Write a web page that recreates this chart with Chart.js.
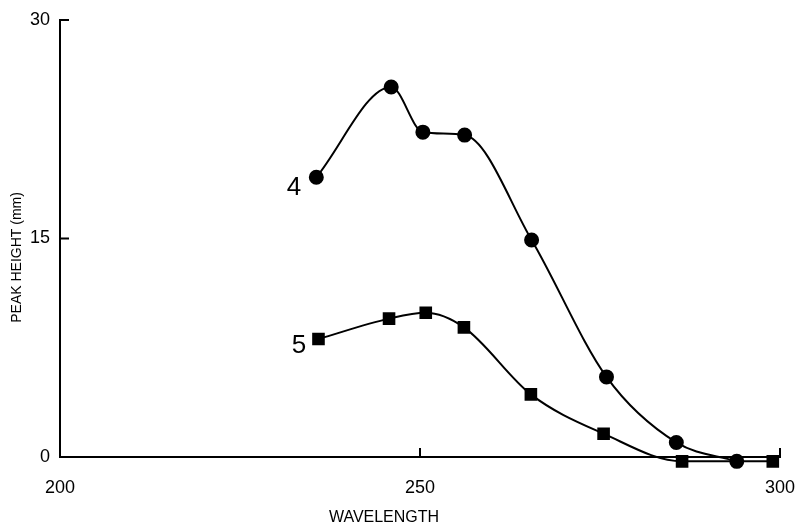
<!DOCTYPE html>
<html>
<head>
<meta charset="utf-8">
<script src="https://cdn.jsdelivr.net/npm/chart.js@4.4.1/dist/chart.umd.min.js"></script>
<style>
  html, body { margin: 0; padding: 0; background: #fff; }
  #wrap { width: 795px; height: 527px; }
</style>
</head>
<body>
<div id="wrap"><canvas id="chart"></canvas></div>
<script>
// values
const wave4 = [235.6, 246, 250.4, 256.2, 265.5, 275.9, 285.6, 294];
const peak4 = [19.2, 25.4, 22.3, 22.1, 14.9, 5.5, 1.0, -0.3];
const wave5 = [235.9, 245.7, 250.8, 256.1, 265.4, 275.5, 286.4, 299];
const peak5 = [8.1, 9.5, 9.9, 8.9, 4.3, 1.6, -0.3, -0.3];
const xTicks = [200, 250, 300];
const yTicks = [0, 15, 30];
const curveNames = ['4', '5'];
const xTitle = 'WAVELENGTH';
const yTitle = 'PEAK HEIGHT (mm)';

const FONT = '"Liberation Sans", Arial, sans-serif';

function toPoints(xs, ys) {
  return xs.map((x, i) => ({ x: x, y: ys[i] }));
}

// curve number labels, axis titles and inward tick marks
const extras = {
  id: 'extras',
  afterDraw(chart) {
    const ctx = chart.ctx;
    const xs = chart.scales.x, ys = chart.scales.y;
    ctx.save();
    ctx.strokeStyle = '#000';
    ctx.lineWidth = 2;
    ctx.beginPath();
    yTicks.forEach(v => {
      const py = ys.getPixelForValue(v);
      ctx.moveTo(xs.left, py);
      ctx.lineTo(xs.left + 9, py);
    });
    xTicks.slice(1).forEach(v => {
      const px = xs.getPixelForValue(v);
      ctx.moveTo(px, ys.bottom);
      ctx.lineTo(px, ys.bottom - 9);
    });
    ctx.stroke();

    ctx.fillStyle = '#000';
    ctx.textAlign = 'center';
    ctx.textBaseline = 'middle';
    ctx.font = '26px ' + FONT;
    const anchors = [[232.5, 18.5], [233.2, 7.6]];
    curveNames.forEach((t, i) => {
      ctx.fillText(t, xs.getPixelForValue(anchors[i][0]), ys.getPixelForValue(anchors[i][1]));
    });

    // axis titles (offset from centre as in the original)
    ctx.font = '16px ' + FONT;
    ctx.fillText(xTitle, xs.getPixelForValue(245), chart.height - 9);
    ctx.font = '14px ' + FONT;
    ctx.translate(17, ys.getPixelForValue(13.7));
    ctx.rotate(-Math.PI / 2);
    ctx.fillText(yTitle, 0, 0);
    ctx.restore();
  }
};

new Chart(document.getElementById('chart'), {
  type: 'scatter',
  data: {
    datasets: [{
      label: curveNames[0],
      data: toPoints(wave4, peak4),
      showLine: true,
      cubicInterpolationMode: 'monotone',
      borderColor: '#000',
      borderWidth: 2,
      backgroundColor: '#000',
      pointStyle: 'circle',
      pointRadius: 6.5,
      clip: false
    }, {
      label: curveNames[1],
      data: toPoints(wave5, peak5),
      showLine: true,
      cubicInterpolationMode: 'monotone',
      borderColor: '#000',
      borderWidth: 2,
      backgroundColor: '#000',
      pointStyle: 'rect',
      pointRadius: 7.5,
      clip: false
    }]
  },
  options: {
    responsive: true,
    maintainAspectRatio: false,
    animation: false,
    layout: { padding: { top: 20, right: 0, left: 0, bottom: 0 } },
    plugins: { legend: { display: false }, tooltip: { enabled: false } },
    scales: {
      x: {
        type: 'linear',
        min: 200,
        max: 300,
        afterBuildTicks: s => { s.ticks = xTicks.map(v => ({ value: v })); },
        afterFit: s => { s.height = 70; s.paddingRight = 15; s.paddingLeft = 0; },
        grid: { display: false },
        border: { color: '#000', width: 2 },
        ticks: {
          color: '#000',
          padding: 12,
          font: { family: FONT, size: 18 }
        }
      },
      y: {
        min: 0,
        max: 30,
        afterBuildTicks: s => { s.ticks = yTicks.map(v => ({ value: v })); },
        afterFit: s => { s.width = 60; },
        grid: { display: false },
        border: { color: '#000', width: 2 },
        ticks: {
          color: '#000',
          padding: 2,
          font: { family: FONT, size: 18 }
        }
      }
    }
  },
  plugins: [extras]
});
</script>
</body>
</html>
